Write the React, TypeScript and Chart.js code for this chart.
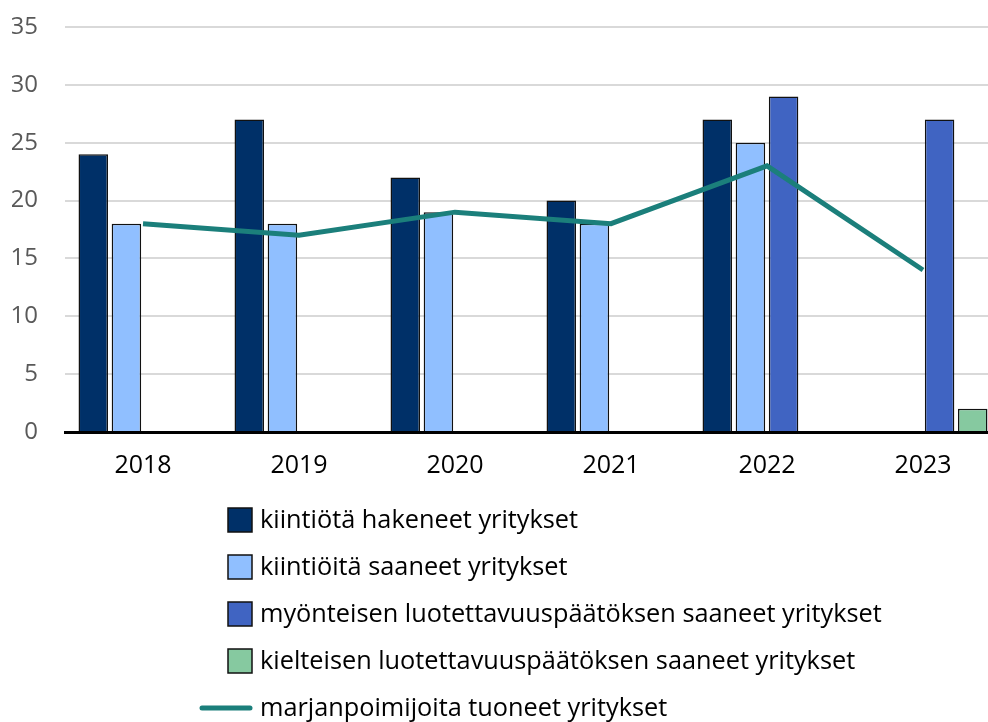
import React, { useEffect, useRef } from 'react';
import { Chart, registerables } from 'chart.js';

Chart.register(...registerables);

const years = ['2018', '2019', '2020', '2021', '2022', '2023'];
const applied = [24, 27, 22, 20, 27, null];
const granted = [18, 18, 19, 18, 25, null];
const positive = [null, null, null, null, 29, 27];
const negative = [null, null, null, null, null, 2];
const imported = [18, 17, 19, 18, 23, 14];

const seriesLabels = [
  'kiintiötä hakeneet yritykset',
  'kiintiöitä saaneet yritykset',
  'myönteisen luotettavuuspäätöksen saaneet yritykset',
  'kielteisen luotettavuuspäätöksen saaneet yritykset',
  'marjanpoimijoita tuoneet yritykset',
];

const yMin = 0;
const yMax = 35;
const yStep = 5;

const FONT = '"Open Sans", "Noto Sans", sans-serif';

const legendPlugin = {
  id: 'customLegend',
  afterDraw(chart: any) {
    const { ctx, chartArea } = chart;
    const firstY = chartArea.bottom + 88;
    const rowH = 47;
    const boxX = 228;
    const boxS = 24;
    const textX = 260;
    ctx.save();
    ctx.font = `25.3px ${FONT}`;
    ctx.textBaseline = 'middle';
    ctx.textAlign = 'left';
    chart.data.datasets.forEach((ds: any, i: number) => {
      const cy = firstY + i * rowH;
      if (ds.type === 'line') {
        ctx.strokeStyle = ds.borderColor;
        ctx.lineWidth = 5;
        ctx.lineCap = 'round';
        ctx.beginPath();
        ctx.moveTo(boxX - 26, cy);
        ctx.lineTo(boxX + boxS - 2, cy);
        ctx.stroke();
      } else {
        ctx.fillStyle = ds.backgroundColor;
        ctx.fillRect(boxX, cy - boxS / 2, boxS, boxS);
        ctx.strokeStyle = '#111';
        ctx.lineWidth = 1.5;
        ctx.strokeRect(boxX, cy - boxS / 2, boxS, boxS);
      }
      ctx.fillStyle = '#000';
      ctx.fillText(ds.label, textX, cy + 1);
    });
    ctx.restore();
  },
};

export default function App() {
  const ref = useRef<HTMLCanvasElement>(null);

  useEffect(() => {
    if (!ref.current) return;
    const barCommon = {
      type: 'bar' as const,
      borderColor: '#111',
      borderWidth: 1.5,
      categoryPercentage: 0.85,
      barPercentage: 0.89,
      order: 1,
    };
    const chart = new Chart(ref.current, {
      type: 'bar',
      data: {
        labels: years,
        datasets: [
          { ...barCommon, label: seriesLabels[0], data: applied, backgroundColor: '#003068' },
          { ...barCommon, label: seriesLabels[1], data: granted, backgroundColor: '#90bfff' },
          { ...barCommon, label: seriesLabels[2], data: positive, backgroundColor: '#4064c2' },
          { ...barCommon, label: seriesLabels[3], data: negative, backgroundColor: '#86c9a0' },
          {
            type: 'line' as const,
            label: seriesLabels[4],
            data: imported,
            borderColor: '#1b7f7b',
            backgroundColor: '#1b7f7b',
            borderWidth: 5,
            pointRadius: 0,
            tension: 0,
            order: 0,
          },
        ] as any,
      },
      options: {
        responsive: false,
        animation: false,
        layout: { padding: { top: 27, left: 12, right: 1, bottom: 240 } },
        plugins: { legend: { display: false }, tooltip: { enabled: false } },
        scales: {
          x: {
            grid: { display: false, drawTicks: false },
            border: { display: true, color: '#000', width: 3 },
            ticks: { font: { family: FONT, size: 25 }, color: '#000', padding: 19 },
            afterFit: (s: any) => { s.height = 50; },
          },
          y: {
            min: yMin,
            max: yMax,
            grid: { color: '#d9d9d9', lineWidth: 2, drawTicks: false },
            border: { display: false },
            ticks: { stepSize: yStep, font: { family: FONT, size: 24 }, color: '#595959', padding: 27 },
            afterFit: (s: any) => { s.width = 53; s.paddingTop = 0; s.paddingBottom = 0; },
          },
        },
      } as any,
      plugins: [legendPlugin],
    });
    return () => chart.destroy();
  }, []);

  return (
    <div style={{ position: 'fixed', left: 0, top: 0, width: 988, height: 722, overflow: 'hidden', background: '#fff' }}>
      <canvas ref={ref} width={1002} height={722} style={{ display: 'block' }} />
    </div>
  );
}
